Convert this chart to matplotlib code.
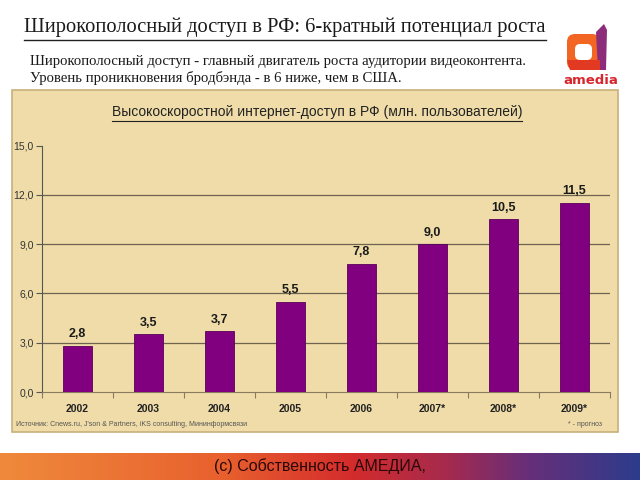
import matplotlib
matplotlib.use("Agg")
import matplotlib.pyplot as plt
import numpy as np
from matplotlib.patches import Rectangle, Polygon, FancyBboxPatch
from matplotlib.colors import LinearSegmentedColormap
from matplotlib import font_manager

years = ["2002", "2003", "2004", "2005", "2006", "2007*", "2008*", "2009*"]
users = [2.8, 3.5, 3.7, 5.5, 7.8, 9.0, 10.5, 11.5]
value_labels = ["2,8", "3,5", "3,7", "5,5", "7,8", "9,0", "10,5", "11,5"]
yticks = [0, 3, 6, 9, 12, 15]
ytick_labels = ["0,0", "3,0", "6,0", "9,0", "12,0", "15,0"]

title = "Широкополосный доступ в РФ: 6-кратный потенциал роста"
subtitle1 = "Широкополосный доступ - главный двигатель роста аудитории видеоконтента."
subtitle2 = "Уровень проникновения бродбэнда - в 6 ниже, чем в США."
chart_title = "Высокоскоростной интернет-доступ в РФ (млн. пользователей)"
source = "Источник: Cnews.ru, J'son & Partners, iKS consulting, Мининформсвязи"
note = "* - прогноз"
footer = "(c) Собственность АМЕДИА,"

names = {f.name for f in font_manager.fontManager.ttflist}
narrow = "Liberation Sans Narrow" if "Liberation Sans Narrow" in names else "Liberation Sans"
serif = "Liberation Serif"

W, H = 640, 480
fig = plt.figure(figsize=(6.4, 4.8), dpi=100)
fig.patch.set_facecolor("white")

def fx(x):
    return x / W

def fy(y):
    return 1 - y / H

# panel background
fig.patches.append(Rectangle((fx(12), fy(432)), fx(618) - fx(12), fy(90) - fy(432),
                             transform=fig.transFigure, facecolor="#EFDCA8",
                             edgecolor="#C9B07C", linewidth=1.2, zorder=-5))

# main axes
left, right, top, bottom = 42, 610, 145.5, 392
ax = fig.add_axes([fx(left), fy(bottom), fx(right) - fx(left), fy(top) - fy(bottom)])
ax.set_zorder(2)
ax.set_facecolor("none")
x = np.arange(len(years))
ax.bar(x, users, width=0.4, color="#800080", edgecolor="#5a005a", linewidth=0.6, zorder=3)
ax.set_xlim(-0.5, len(years) - 0.5)
ax.set_ylim(0, 15)
ax.set_yticks(yticks)
ax.set_yticklabels(ytick_labels, fontsize=7.5, color="#333333", family=narrow)
ax.tick_params(axis="y", length=4, color="#555555", width=0.8, pad=2)
ax.yaxis.grid(True, color="#6e6450", linewidth=0.9, zorder=1)
gl = ax.get_ygridlines()
gl[0].set_visible(False)
gl[-1].set_visible(False)
ax.set_axisbelow(True)
ax.set_xticks(x)
ax.set_xticklabels(years, fontsize=7.5, fontweight="bold", color="#222222", family=narrow)
ax.set_xticks(np.arange(-0.5, len(years), 1.0), minor=True)
ax.tick_params(axis="x", which="major", length=0, pad=9)
ax.tick_params(axis="x", which="minor", length=4, color="#8a7a60", width=0.8)
for s in ["top", "right"]:
    ax.spines[s].set_visible(False)
ax.spines["left"].set_color("#555555")
ax.spines["bottom"].set_color("#8a7a60")
for xi, v, lab in zip(x, users, value_labels):
    ax.annotate(lab, (xi, v), xytext=(0, 4), textcoords="offset points",
                ha="center", va="bottom", fontsize=9, fontweight="bold",
                color="#1a1a1a", family=narrow)

# texts
t = fig.text(fx(24), fy(27), title, fontsize=14.8, family=serif, color="#1a1a1a",
             ha="left", va="center")
fig.text(fx(30), fy(62), subtitle1, fontsize=10.6, family=serif, color="#1a1a1a",
         ha="left", va="center")
fig.text(fx(30), fy(78), subtitle2, fontsize=10.6, family=serif, color="#1a1a1a",
         ha="left", va="center")
ct = fig.text(fx(317), fy(112), chart_title, fontsize=10, family=narrow, color="#222222",
              ha="center", va="center")
fig.text(fx(16), fy(425), source, fontsize=5, family=narrow, color="#555555",
         ha="left", va="center")
fig.text(fx(602), fy(425), note, fontsize=5, family=narrow, color="#555555",
         ha="right", va="center")

# underlines
fig.canvas.draw()
r = fig.canvas.get_renderer()
for txt, off, lw in [(t, 3, 1.0), (ct, 2, 0.8)]:
    bb = txt.get_window_extent(renderer=r)
    yy = (bb.y0 - off) / fig.bbox.height
    fig.add_artist(plt.Line2D([bb.x0 / fig.bbox.width, bb.x1 / fig.bbox.width], [yy, yy],
                              transform=fig.transFigure, color="#222222", linewidth=lw))

# footer gradient
fax = fig.add_axes([0, fy(480), 1, fy(453) - fy(480)])
cmap = LinearSegmentedColormap.from_list("ft", [(0, "#EF8A3C"), (0.35, "#E8602E"),
                                                (0.55, "#D42C2C"), (0.7, "#A52A4E"),
                                                (0.82, "#6A2E78"), (1.0, "#2C3C8C")])
fax.imshow(np.linspace(0, 1, 256)[None, :], aspect="auto", cmap=cmap, extent=[0, 1, 0, 1])
fax.axis("off")
fax.text(0.5, 0.5, footer, fontsize=11.5, family=narrow, color="#2a0808",
         ha="center", va="center", transform=fax.transAxes)

# logo
lax = fig.add_axes([fx(560), fy(88), fx(622) - fx(560), fy(20) - fy(88)])
lax.set_xlim(0, 62)
lax.set_ylim(68, 0)
lax.axis("off")
lax.add_patch(FancyBboxPatch((7, 14), 33, 36, boxstyle="round,pad=0,rounding_size=8",
                             facecolor="#F26522", edgecolor="none"))
lax.add_patch(Polygon([[36, 12], [44, 4], [47, 10], [46, 50], [38, 50]], closed=True,
                      facecolor="#8E2C7C", edgecolor="none"))
lax.add_patch(FancyBboxPatch((15, 24), 17, 16, boxstyle="round,pad=0,rounding_size=5",
                             facecolor="white", edgecolor="none"))
lax.add_patch(Polygon([[7, 40], [40, 40], [40, 50], [10, 50]], closed=True,
                      facecolor="#E23A22", edgecolor="none"))
lax.text(31, 60, "amedia", fontsize=9.5, color="#D8262E", ha="center", va="center",
         family="DejaVu Sans", fontweight="bold")

fig.savefig("out.png", dpi=100)
